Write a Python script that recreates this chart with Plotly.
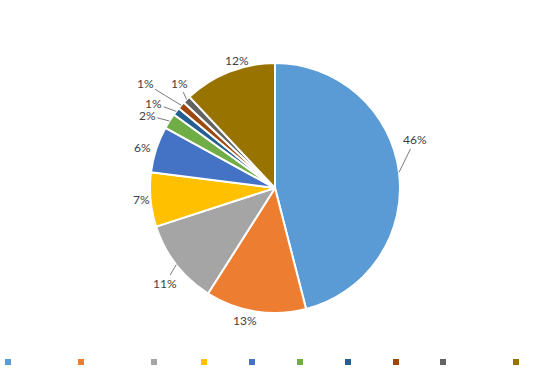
import math
import plotly.graph_objects as go

# ---- data ----
categories = ["Cat A", "Cat B", "Cat C", "Cat D", "Cat E", "Cat F", "Cat G", "Cat H", "Cat I", "Cat J"]
values = [46, 13, 11, 7, 6, 2, 1, 1, 1, 12]
labels_txt = ["46%", "13%", "11%", "7%", "6%", "2%", "1%", "1%", "1%", "12%"]
colors = ["#5B9BD5", "#ED7D31", "#A5A5A5", "#FFC000", "#4472C4",
          "#70AD47", "#255E91", "#9E480E", "#636363", "#997300"]

# ---- style: label placement tweaks (angle nudge in deg, distance in px, leader line) ----
nudge = [-11.8, 3.7, -3.3, 0.4, -1.1, -2.7, -2.8, -2.5, 2.6, 5.1]
dist = [148, 136, 146, 134, 138, 147, 148, 167, 142, 133]
leader = [True, False, True, False, False, True, True, True, True, False]
# legend grouping (legend blocks)
legend_block = ["legend", "legend", "legend", "legend2", "legend2", "legend2", "legend2", "legend2",
                "legend3", "legend3"]

W, H = 550, 380
CX, CY, R = 275, 188, 125

fig = go.Figure()
fig.add_trace(go.Pie(
    labels=categories, values=values, sort=False, direction="clockwise",
    rotation=0, textinfo="none", showlegend=False,
    marker=dict(colors=colors, line=dict(color="white", width=2)),
    domain=dict(x=[0, 1], y=[(H - (CY + R)) / H, (H - (CY - R)) / H]),
    hoverinfo="label+percent",
))

# legend markers
for i, (c, col) in enumerate(zip(categories, colors)):
    fig.add_trace(go.Scatter(
        x=[None], y=[None], mode="markers", name="\u00a0",
        marker=dict(symbol="square", size=6, color=col),
        showlegend=True, legend=legend_block[i],
    ))

total = sum(values)
cum = 0
annotations = []
lab_font = dict(family="Lato", size=12, color="#404040")
for i, v in enumerate(values):
    mid = (cum + v / 2) / total * 360
    cum += v
    th = math.radians(mid)
    px_ = CX + R * math.sin(th)
    py_ = CY - R * math.cos(th)
    thl = math.radians(mid + nudge[i])
    lx = CX + dist[i] * math.sin(thl)
    ly = CY - dist[i] * math.cos(thl)
    if leader[i]:
        annotations.append(dict(
            x=px_ / W, y=1 - py_ / H, xref="paper", yref="paper",
            ax=lx - px_, ay=ly - py_, axref="pixel", ayref="pixel",
            text=labels_txt[i], showarrow=True, arrowhead=0, arrowwidth=0.8,
            arrowcolor="#595959", standoff=0, font=lab_font,
        ))
    else:
        annotations.append(dict(
            x=lx / W, y=1 - ly / H, xref="paper", yref="paper",
            xanchor="center", yanchor="middle",
            text=labels_txt[i], showarrow=False, font=lab_font,
        ))

leg_common = dict(orientation="h", xanchor="left", y=1 - 362 / H, yanchor="middle",
                  font=dict(family="Lato", size=10, color="rgba(0,0,0,0)"),
                  bgcolor="rgba(0,0,0,0)", itemwidth=30, entrywidthmode="pixels")

fig.update_layout(
    width=W, height=H, margin=dict(l=0, r=0, t=0, b=0, autoexpand=False),
    paper_bgcolor="white", plot_bgcolor="white",
    xaxis=dict(visible=False), yaxis=dict(visible=False),
    annotations=annotations,
    showlegend=True,
    legend=dict(x=(8 - 20) / W, entrywidth=28, **leg_common),
    legend2=dict(x=(204 - 20) / W, entrywidth=3, **leg_common),
    legend3=dict(x=(443 - 20) / W, entrywidth=28, **leg_common),
)

fig.write_html("out.html")
